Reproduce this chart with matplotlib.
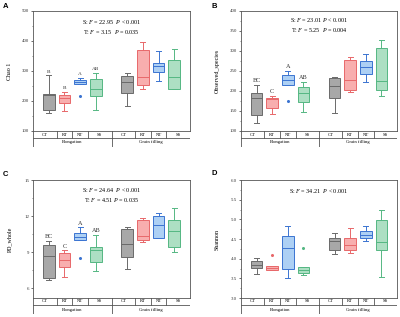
import matplotlib
matplotlib.use("Agg")
import matplotlib.pyplot as plt

plt.rcParams['font.family'] = ['Liberation Serif', 'DejaVu Serif']
plt.rcParams['mathtext.fontset'] = 'custom'
plt.rcParams['mathtext.it'] = 'Liberation Serif:italic'
plt.rcParams['mathtext.rm'] = 'Liberation Serif'

# treatments and stages
treatments = ['CT', 'RT', 'NT', 'SS', 'CT', 'RT', 'NT', 'SS']
stages = ['Elongation', 'Grain filling']
positions = [1, 2, 3, 4, 6, 7, 8, 9]

# box stats: whisker low, q1, median, q3, whisker high
chao_lo = [161, 168, 258, 169, 184, 239, 266, 239]
chao_q1 = [170, 195, 258, 216, 228, 253, 298, 239]
chao_med = [221, 211, 264, 239, 262, 281, 318, 281]
chao_q3 = [225, 220, 270, 273, 284, 369, 326, 337]
chao_hi = [287, 231, 278, 294, 294, 398, 366, 374]
chao_out = [[], [], [217], [], [], [], [], []]
chao_letters = ['B', 'B', 'A', 'AB']

obs_lo = [119, 142, 216, 148, 146, 197, 223, 188]
obs_q1 = [140, 158, 216, 172, 183, 203, 243, 203]
obs_med = [182, 180, 228, 194, 212, 227, 261, 226]
obs_q3 = [194, 182, 241, 209, 232, 278, 276, 308]
obs_hi = [216, 188, 251, 223, 236, 285, 293, 328]
obs_out = [[], [], [175], [], [], [], [], []]
obs_letters = ['BC', 'C', 'A', 'AB']

pd_lo = [6.69, 6.92, 10.03, 7.39, 7.58, 9.81, 10.17, 8.97]
pd_q1 = [6.83, 7.75, 10.03, 8.17, 8.58, 10.03, 10.17, 9.39]
pd_med = [8.69, 8.36, 10.22, 9.19, 9.69, 10.31, 11.22, 10.72]
pd_q3 = [9.61, 8.92, 10.58, 9.42, 10.94, 11.69, 11.97, 11.69]
pd_hi = [9.95, 9.14, 11.08, 10.44, 11.06, 11.83, 12.25, 12.67]
pd_out = [[], [], [8.5], [], [], [], [], []]
pd_letters = ['BC', 'C', 'A', 'AB']

sh_lo = [3.61, 3.72, 3.50, 3.59, 4.11, 4.15, 4.46, 3.54]
sh_q1 = [3.77, 3.72, 3.74, 3.64, 4.23, 4.22, 4.52, 4.23]
sh_med = [3.84, 3.77, 4.26, 3.70, 4.45, 4.35, 4.60, 4.42]
sh_q3 = [3.95, 3.82, 4.58, 3.78, 4.52, 4.52, 4.71, 4.99]
sh_hi = [4.02, 3.82, 4.84, 3.78, 4.64, 4.78, 4.82, 5.25]
sh_out = [[], [4.10], [], [4.26], [], [], [], []]

fills = ['#a8a8a8', '#f8aeae', '#add0f4', '#addfc3'] * 2
edges = ['#6a6a6a', '#e8686a', '#3b74d1', '#55b783'] * 2
frame = '#555555'


def panel(rect, lo, q1, med, q3, hi, out, ylim, ticks, ylabel, stats_text, text_y,
          letters=None, letter_size=4.5):
    ax = fig.add_axes(rect)
    stats = []
    for i in range(len(lo)):
        stats.append(dict(whislo=lo[i], q1=q1[i], med=med[i], q3=q3[i],
                          whishi=hi[i], fliers=out[i]))
    parts = ax.bxp(stats, positions=positions, widths=0.74, patch_artist=True,
                   showfliers=True)
    for i in range(len(stats)):
        parts['boxes'][i].set(facecolor=fills[i], edgecolor=edges[i], linewidth=0.7)
        parts['medians'][i].set(color=edges[i], linewidth=0.7)
        for w in parts['whiskers'][2 * i:2 * i + 2]:
            w.set(color=edges[i], linewidth=0.7)
        for c in parts['caps'][2 * i:2 * i + 2]:
            c.set(color=edges[i], linewidth=0.7)
            x = c.get_xdata()
            m = (x[0] + x[1]) / 2
            c.set_xdata([m - 0.16, m + 0.16])
        parts['fliers'][i].set(marker='o', markersize=1.2, markerfacecolor=edges[i],
                               markeredgecolor=edges[i])
    if letters:
        for i, t in enumerate(letters):
            ax.annotate(t, (positions[i], hi[i]), xytext=(0, 1), textcoords='offset points',
                        ha='center', va='bottom', fontsize=letter_size, color='#333333')
    ax.set_xlim(0, 10)
    ax.set_ylim(*ylim)
    ax.set_yticks(ticks)
    ax.set_yticks([(a + b) / 2 for a, b in zip(ticks[:-1], ticks[1:])], minor=True)
    ax.set_xticks([])
    ax.tick_params(axis='y', labelsize=3.5, length=1.8, width=0.5, pad=1, colors='#333333')
    ax.tick_params(axis='y', which='minor', length=1, width=0.4, colors='#333333')
    for s in ax.spines.values():
        s.set_color(frame)
        s.set_linewidth(0.6)
    ax.set_ylabel(ylabel, fontsize=4.3)
    ax.yaxis.set_label_coords(-0.135, 0.5)
    ax.text(0.5, text_y, stats_text, transform=ax.transAxes, ha='center', va='center',
            fontsize=4.4, linespacing=1.35)

    # category table under the box plot
    l, b, w, h = rect
    tab = fig.add_axes([l, b - 16 / 317, w, 16 / 317])
    tab.set_xlim(0, 10)
    tab.set_ylim(0, 16)
    tab.axis('off')
    kw = dict(color=frame, linewidth=0.6)
    tab.plot([0, 0], [0, 16], **kw)
    tab.plot([10, 10], [0, 16], **kw)
    tab.plot([0, 10], [9, 9], **kw)
    tab.plot([0, 10], [0.2, 0.2], **kw)
    seps = [0, 1.5, 2.5, 3.5, 5, 6.5, 7.5, 8.5, 10]
    for s in seps[1:-1]:
        tab.plot([s, s], [9, 16], **kw)
    tab.plot([5, 5], [0, 9], **kw)
    for i, t in enumerate(treatments):
        tab.text((seps[i] + seps[i + 1]) / 2, 12.5, t, ha='center', va='center', fontsize=3.3)
    tab.text(2.5, 4.5, stages[0], ha='center', va='center', fontsize=3.3)
    tab.text(7.5, 4.5, stages[1], ha='center', va='center', fontsize=3.3)
    return ax


fig = plt.figure(figsize=(4, 3.17), dpi=100)

panel([33 / 400, 1 - 131 / 317, 157 / 400, 120 / 317], chao_lo, chao_q1, chao_med, chao_q3,
      chao_hi, chao_out, (100, 500), [100, 200, 300, 400, 500], 'Chao 1',
      'S: $F$ = 22.95  $P$ < 0.001\nT: $F$ = 3.15  $P$ = 0.035', 0.865, chao_letters, 3.8)
panel([241 / 400, 1 - 131 / 317, 156 / 400, 120 / 317], obs_lo, obs_q1, obs_med, obs_q3,
      obs_hi, obs_out, (100, 400), [100, 150, 200, 250, 300, 350, 400], 'Observed_species',
      'S: $F$ = 23.01 $P$ < 0.001\nT: $F$ = 5.25  $P$ = 0.004', 0.88, obs_letters, 4.5)
panel([33 / 400, 1 - 298 / 317, 157 / 400, 118 / 317], pd_lo, pd_q1, pd_med, pd_q3,
      pd_hi, pd_out, (5.17, 15), [6, 9, 12, 15], 'PD_whole',
      'S: $F$ = 24.64  $P$ < 0.001\nT: $F$ = 4.51 $P$ = 0.035', 0.87, pd_letters, 4.5)
panel([241 / 400, 1 - 298 / 317, 156 / 400, 118 / 317], sh_lo, sh_q1, sh_med, sh_q3,
      sh_hi, sh_out, (3.0, 6.0), [3.0, 3.5, 4.0, 4.5, 5.0, 5.5, 6.0], 'Shannon',
      'S: $F$ = 34.21  $P$ < 0.001', 0.905)

for t, x, y in [('A', 3, 7), ('B', 212, 7), ('C', 3, 175), ('D', 212, 173)]:
    fig.text(x / 400, 1 - y / 317, t, fontsize=5.5, fontweight='bold',
             family=['Liberation Sans', 'DejaVu Sans'], ha='left', va='center')

fig.savefig('out.png', dpi=100)
